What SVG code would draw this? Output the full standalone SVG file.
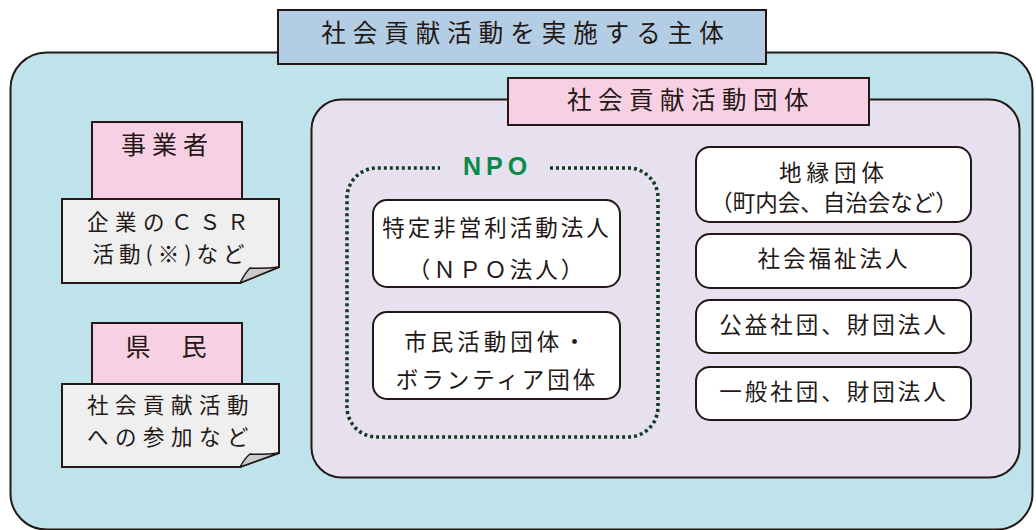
<svg xmlns="http://www.w3.org/2000/svg" width="1036" height="530" viewBox="0 0 1036 530">
<style>
.ln{stroke:#231815;stroke-width:2;}
.t{font-family:"Noto Sans CJK JP","Noto Sans",sans-serif;fill:#231815;text-anchor:middle;}
.box{fill:#ffffff;stroke:#231815;stroke-width:2;}
.pink{fill:#f8d0e3;stroke:#231815;stroke-width:2;}
.gray{fill:#efefef;stroke:#231815;stroke-width:2;stroke-linejoin:miter;}
.fold{fill:#cbcbcb;stroke:#231815;stroke-width:1.5;stroke-linejoin:round;}
</style>
<rect width="1036" height="530" fill="#ffffff"/>
<g id="outer">
<rect x="10.5" y="52.5" width="1022" height="477" rx="36" ry="36" fill="#bee3ea" class="ln"/>
<rect x="278" y="10" width="488" height="54" fill="#b2cde4" class="ln"/>
<text class="t" x="526" y="42" font-size="24.5" letter-spacing="7">社会貢献活動を実施する主体</text>
</g>
<g id="group-area">
<rect x="311.5" y="99.5" width="708" height="378" rx="30" ry="30" fill="#e7e0ef" class="ln"/>
<rect x="508" y="78" width="361" height="47" class="pink"/>
<text class="t" x="691" y="109" font-size="24.5" letter-spacing="6.5">社会貢献活動団体</text>
</g>
<g id="jigyosha">
<rect x="92" y="122" width="150" height="80" class="pink"/>
<text class="t" x="167.5" y="154" font-size="25" letter-spacing="6">事業者</text>
<path d="M62,199 H279 V267 L240,283 H62 Z" class="gray"/>
<path d="M240,283 Q245,273 250,268 Q264,269 279,267 Z" class="fold"/>
<text class="t" x="171" y="230" font-size="21.5" letter-spacing="6.5">企業のＣＳＲ</text>
<text class="t" x="171" y="262" font-size="21.5" letter-spacing="5">活動(※)など</text>
</g>
<g id="kenmin">
<rect x="92" y="323" width="150" height="62" class="pink"/>
<text class="t" x="167.5" y="356" font-size="25" letter-spacing="3">県　民</text>
<path d="M62,384 H279 V453 L240,467 H62 Z" class="gray"/>
<path d="M240,467 Q245,458 250,454 Q264,455 279,453 Z" class="fold"/>
<text class="t" x="171" y="413" font-size="21.5" letter-spacing="6.5">社会貢献活動</text>
<text class="t" x="171" y="445" font-size="21.5" letter-spacing="6.5">への参加など</text>
</g>
<g id="npo">
<path d="M550,168 H628 A30,30 0 0 1 658,198 V407 A30,30 0 0 1 628,437 H377 A30,30 0 0 1 347,407 V198 A30,30 0 0 1 377,168 H440" fill="none" stroke="#123d25" stroke-width="3.6" stroke-dasharray="3 3"/>
<text x="497.5" y="175" font-family="Liberation Sans,Arial,sans-serif" font-weight="bold" font-size="25" letter-spacing="5" fill="#0a8a4a" text-anchor="middle">NPO</text>
</g>
<g id="npo-houjin">
<rect x="373" y="200" width="247" height="87" rx="14" ry="14" class="box"/>
<text class="t" x="497" y="236" font-size="22.5" letter-spacing="3">特定非営利活動法人</text>
<text class="t" x="497" y="278" font-size="22.5" letter-spacing="3">（ＮＰＯ法人）</text>
</g>
<g id="shimin">
<rect x="373" y="312" width="247" height="87" rx="14" ry="14" class="box"/>
<text class="t" x="497" y="350" font-size="22.5" letter-spacing="4">市民活動団体・</text>
<text class="t" x="497" y="388" font-size="22.5" letter-spacing="3">ボランティア団体</text>
</g>
<g id="chien">
<rect x="696" y="147" width="275" height="75" rx="14" ry="14" class="box"/>
<text class="t" x="834" y="181" font-size="22.5" letter-spacing="5">地縁団体</text>
<text class="t" x="834" y="211" font-size="22.5" letter-spacing="0">（町内会、自治会など）</text>
</g>
<g id="shakaifukushi">
<rect x="696" y="234" width="275" height="54" rx="14" ry="14" class="box"/>
<text class="t" x="834" y="267" font-size="22.5" letter-spacing="3">社会福祉法人</text>
</g>
<g id="koueki">
<rect x="696" y="300" width="275" height="53" rx="14" ry="14" class="box"/>
<text class="t" x="834" y="333" font-size="22.5" letter-spacing="3">公益社団、財団法人</text>
</g>
<g id="ippan">
<rect x="696" y="367" width="275" height="53" rx="14" ry="14" class="box"/>
<text class="t" x="834" y="400" font-size="22.5" letter-spacing="3">一般社団、財団法人</text>
</g>
<g id="connectors"></g>
</svg>
